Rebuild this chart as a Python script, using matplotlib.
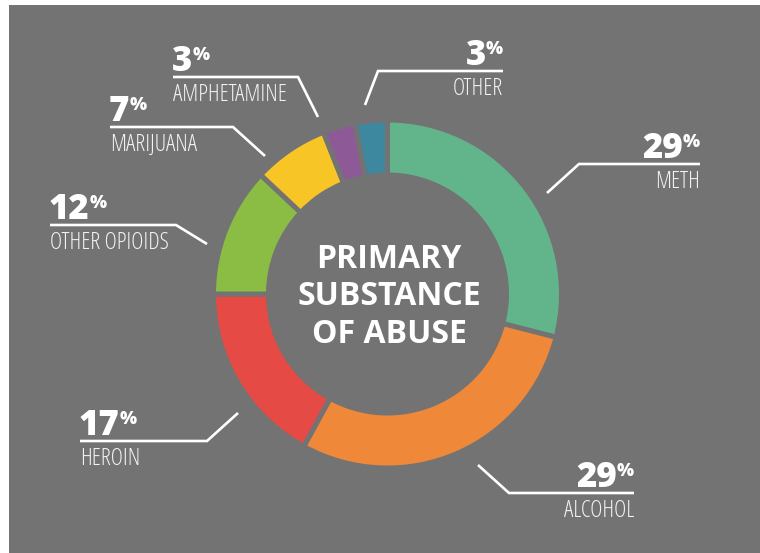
import matplotlib.pyplot as plt
from matplotlib.patches import Rectangle

# --- дані ---
substances = ['METH', 'ALCOHOL', 'HEROIN', 'OTHER OPIOIDS', 'MARIJUANA', 'AMPHETAMINE', 'OTHER']
shares = [29, 29, 17, 12, 7, 3, 3]
colors = ['#62b58b', '#f0883a', '#e64a45', '#8bbd44', '#f8c526', '#8d5a97', '#3d889e']

BG = '#737373'
W, H = 760, 553

# розташування підписів: x тексту, вирівнювання, лінія-виноска (px, від верхнього краю)
label_layout = {
    'METH':          (700, 'right', [(700, 164), (579, 164), (547, 193)]),
    'ALCOHOL':       (634, 'right', [(634, 493), (509, 493), (478, 465)]),
    'HEROIN':        (80,  'left',  [(80, 441), (207, 441), (238, 413)]),
    'OTHER OPIOIDS': (50,  'left',  [(50, 225), (176, 225), (207, 244)]),
    'MARIJUANA':     (110, 'left',  [(110, 127), (233, 127), (265, 156)]),
    'AMPHETAMINE':   (173, 'left',  [(173, 77), (298, 77), (318, 117)]),
    'OTHER':         (503, 'right', [(503, 71), (378, 71), (365, 105)]),
}

num_font = dict(family=['Open Sans', 'DejaVu Sans'], weight='heavy', color='white')
name_font = dict(family=['Liberation Sans Narrow', 'Open Sans', 'DejaVu Sans'],
                 stretch='condensed', color='#f2f2f2')


def Y(p):
    # піксель від верху -> координата осі
    return H - p


fig = plt.figure(figsize=(W / 100, H / 100), dpi=100, facecolor='white')
ax = fig.add_axes([0, 0, 1, 1])

ax.add_patch(Rectangle((9, 0), W - 9, H - 5, facecolor=BG, edgecolor='none', zorder=0))

ax.pie(shares, colors=colors, startangle=90, counterclock=False,
       radius=174, center=(387.5, Y(294)),
       wedgeprops=dict(width=55, edgecolor=BG, linewidth=3.6))

ax.set_xlim(0, W)
ax.set_ylim(0, H)
ax.set_aspect('auto')
ax.axis('off')

renderer = fig.canvas.get_renderer()

for name, val in zip(substances, shares):
    x, ha, pts = label_layout[name]
    line_y = pts[0][1]
    ax.plot([p[0] for p in pts], [Y(p[1]) for p in pts], color='white', lw=1.9,
            solid_capstyle='butt', solid_joinstyle='miter')

    base = Y(line_y - 6)
    if ha == 'left':
        t = ax.text(x - 1, base, str(val), ha='left', va='baseline', fontsize=25, **num_font)
        bb = t.get_window_extent(renderer)
        ax.text(bb.x1, base + 11, '%', ha='left', va='baseline', fontsize=13, **num_font)
    else:
        p = ax.text(x, base + 11, '%', ha='right', va='baseline', fontsize=13, **num_font)
        bb = p.get_window_extent(renderer)
        ax.text(bb.x0, base, str(val), ha='right', va='baseline', fontsize=25, **num_font)

    ax.text(x, Y(line_y + 24), name, ha=ha, va='baseline', fontsize=16.8, **name_font)

# підпис у центрі кільця
for txt, yb in zip(['PRIMARY', 'SUBSTANCE', 'OF ABUSE'], [268, 305, 343]):
    ax.text(389, Y(yb), txt, ha='center', va='baseline', fontsize=23,
            family=['Open Sans', 'DejaVu Sans'], weight='bold', color='white')

fig.savefig('out.png', dpi=100, facecolor='white')
